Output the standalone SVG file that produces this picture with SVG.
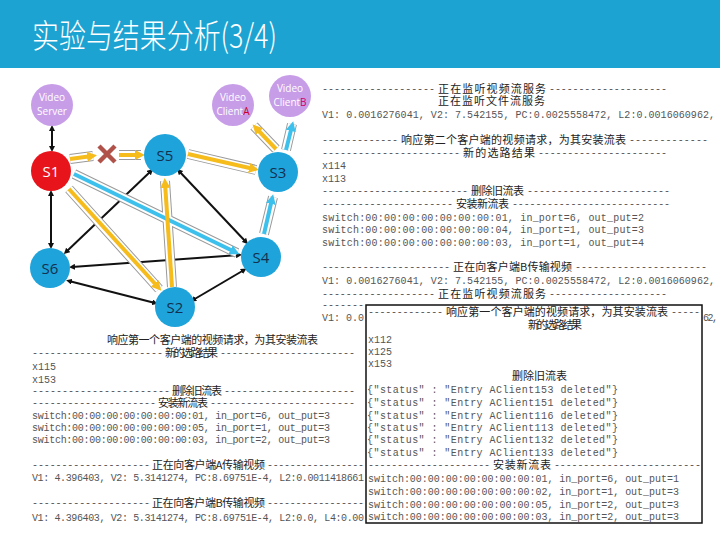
<svg xmlns="http://www.w3.org/2000/svg" width="720" height="540" viewBox="0 0 720 540">
<defs>
<style>
.m{font-family:"Liberation Mono","DejaVu Sans Mono",monospace;font-size:10px;fill:#555}
.c{font-family:"Noto Sans CJK SC",sans-serif;font-size:11px;fill:#222}
.nl{font-family:"Open Sans","Liberation Sans",sans-serif;font-size:15px;text-anchor:middle}
.vl{font-family:"Open Sans","Liberation Sans",sans-serif;font-size:10px;fill:#fff;text-anchor:middle}
.blk{stroke:#111;stroke-width:2;fill:none;marker-start:url(#bh);marker-end:url(#bh)}
.o1{stroke:#9a9a9a;stroke-width:10;fill:none}
.o2{stroke:#fff;stroke-width:8;fill:none}
.y{stroke:#F5BC1C;stroke-width:4;fill:none;marker-end:url(#yh)}
.b{stroke:#3DC1EC;stroke-width:4;fill:none;marker-end:url(#blh)}
.sw{fill:#1EA3DA}
.vn{fill:#C79DE8}
</style>
<marker id="bh" viewBox="0 0 6 6" refX="3" refY="3" markerWidth="3" markerHeight="3" orient="auto-start-reverse"><path d="M0,0 L6,3 L0,6 z" fill="#111"/></marker>
<marker id="yh" viewBox="0 0 6 6" refX="3" refY="3" markerWidth="2.5" markerHeight="2.5" orient="auto"><path d="M0,0 L6,3 L0,6 z" fill="#F5BC1C"/></marker>
<marker id="blh" viewBox="0 0 6 6" refX="3" refY="3" markerWidth="2.5" markerHeight="2.5" orient="auto"><path d="M0,0 L6,3 L0,6 z" fill="#3DC1EC"/></marker>
</defs>
<rect width="720" height="540" fill="#fff"/>
<rect x="0" y="0" width="720" height="68" fill="#1DA3D2"/>
<text x="32" y="48" font-family="'Noto Sans CJK SC',sans-serif" font-weight="300" font-size="33" fill="#fff" textLength="245" lengthAdjust="spacingAndGlyphs">实验与结果分析(3/4)</text>

<g id="connectors">
<line class="blk" x1="52" y1="128" x2="52" y2="149"/>
<line class="blk" x1="51" y1="193" x2="51" y2="246"/>
<line class="blk" x1="151" y1="171" x2="66" y2="252"/>
<line class="blk" x1="179" y1="171" x2="246" y2="242"/>
<line class="blk" x1="239" y1="255" x2="72" y2="267"/>
<line class="blk" x1="69" y1="281" x2="155" y2="303"/>
<line class="blk" x1="193" y1="300" x2="244" y2="270"/>
<g>
<path class="o1" d="M70,159 L93,156 M119,155 L141,155 M188,154 L256,170 M276,149 L254,126 M286,150 L292,124 M74,174 L237,253 M69,189 L159,289 M172,287 L165,181 M264,234 L273,197"/>
<path class="o2" d="M70,159 L93,156 M119,155 L141,155 M188,154 L256,170 M276,149 L254,126 M286,150 L292,124 M74,174 L237,253 M69,189 L159,289 M172,287 L165,181 M264,234 L273,197"/>
</g>
<line class="y" x1="70" y1="159" x2="92" y2="156"/>
<line class="y" x1="119" y1="155" x2="140" y2="155"/>
<line class="y" x1="188" y1="154" x2="254" y2="169"/>
<line class="y" x1="276" y1="149" x2="256" y2="128"/>
<line class="b" x1="286" y1="150" x2="292" y2="126"/>
<line class="b" x1="74" y1="174" x2="235" y2="252"/>
<line class="y" x1="69" y1="189" x2="158" y2="287"/>
<line class="y" x1="172" y1="287" x2="165" y2="183"/>
<line class="b" x1="264" y1="234" x2="272" y2="199"/>
<path d="M99,146 L115,162 M115,146 L99,162" stroke="#B0524A" stroke-width="4.5" fill="none"/>
</g>

<g id="VideoServer"><circle class="vn" cx="52" cy="105" r="21"/><text class="vl" x="52" y="101">Video</text><text class="vl" x="52" y="115">Server</text></g>
<g id="ClientA"><circle class="vn" cx="233" cy="105" r="21"/><text class="vl" x="233" y="101">Video</text><text class="vl" x="233" y="115">Client<tspan fill="#C8002A">A</tspan></text></g>
<g id="ClientB"><circle class="vn" cx="290" cy="96" r="21"/><text class="vl" x="290" y="92">Video</text><text class="vl" x="290" y="106">Client<tspan fill="#D0006A">B</tspan></text></g>
<g id="S1"><circle cx="51" cy="171" r="20" fill="#E8141B"/><text class="nl" x="51" y="177" fill="#fff">S1</text></g>
<g id="S5"><circle class="sw" cx="165" cy="155" r="21"/><text class="nl" x="165" y="161" fill="#14304f">S5</text></g>
<g id="S3"><circle class="sw" cx="278" cy="172" r="20"/><text class="nl" x="278" y="178" fill="#14304f">S3</text></g>
<g id="S4"><circle class="sw" cx="261" cy="257" r="20"/><text class="nl" x="261" y="263" fill="#14304f">S4</text></g>
<g id="S6"><circle class="sw" cx="50" cy="268" r="20"/><text class="nl" x="50" y="274" fill="#14304f">S6</text></g>
<g id="S2"><circle class="sw" cx="175" cy="307" r="20"/><text class="nl" x="175" y="313" fill="#14304f">S2</text></g>

<g id="right-log">
<text class="m" x="322" y="92" textLength="113">-------------------</text><text class="c" x="438" y="93" font-size="11.5" textLength="108">正在监听视频流服务</text><text class="m" x="549" y="92" textLength="118">--------------------</text>
<text class="c" x="438" y="105" font-size="11.5" textLength="107">正在监听文件流服务</text>
<text class="m" x="322" y="118" textLength="393">V1: 0.0016276041, V2: 7.542155, PC:0.0025558472, L2:0.0016060962,</text>
<text class="m" x="322" y="143" textLength="76">-------------</text><text class="c" x="401" y="144" textLength="225">响应第二个客户端的视频请求，为其安装流表</text><text class="m" x="629" y="143" textLength="79">-------------</text>
<text class="m" x="322" y="156" textLength="138">-----------------------</text><text class="c" x="463" y="157" textLength="72">新的选路结果</text><text class="m" x="538" y="156" textLength="129">----------------------</text>
<text class="m" x="322" y="169">x114</text>
<text class="m" x="322" y="182">x113</text>
<text class="m" x="322" y="194" textLength="146">-------------------------</text><text class="c" x="471" y="195" textLength="53">删除旧流表</text><text class="m" x="527" y="194" textLength="143">------------------------</text>
<text class="m" x="322" y="207" textLength="131">----------------------</text><text class="c" x="456" y="208" textLength="53">安装新流表</text><text class="m" x="512" y="207" textLength="158">---------------------------</text>
<text class="m" x="322" y="221" textLength="322">switch:00:00:00:00:00:00:00:01, in_port=6, out_put=2</text>
<text class="m" x="322" y="233" textLength="322">switch:00:00:00:00:00:00:00:04, in_port=1, out_put=3</text>
<text class="m" x="322" y="246" textLength="322">switch:00:00:00:00:00:00:00:03, in_port=1, out_put=4</text>
<text class="m" x="322" y="270" textLength="128">----------------------</text><text class="c" x="453" y="271" textLength="119">正在向客户端B传输视频</text><text class="m" x="575" y="270" textLength="132">----------------------</text>
<text class="m" x="322" y="284" textLength="393">V1: 0.0016276041, V2: 7.542155, PC:0.0025558472, L2:0.0016060962,</text>
<text class="m" x="322" y="297" textLength="113">-------------------</text><text class="c" x="438" y="298" font-size="11.5" textLength="108">正在监听视频流服务</text><text class="m" x="549" y="297" textLength="118">--------------------</text>
<text class="m" x="322" y="308" textLength="42">-------</text>
<text class="m" x="322" y="321">V1: 0.0</text>
<text class="m" x="703" y="321" textLength="15">62,</text>
</g>

<g id="left-log">
<text class="c" x="107" y="344" font-size="10.5" textLength="211">响应第一个客户端的视频请求，为其安装流表</text>
<text class="m" x="32" y="356" textLength="131">----------------------</text><text class="c" x="165" y="357" font-size="9.5" textLength="53">新的选路结果</text><text class="m" x="220" y="356" textLength="135">-----------------------</text>
<text class="m" x="32" y="370">x115</text>
<text class="m" x="32" y="383">x153</text>
<text class="m" x="32" y="394" textLength="138">-----------------------</text><text class="c" x="172" y="395" font-size="10" textLength="50">删除旧流表</text><text class="m" x="224" y="394" textLength="131">----------------------</text>
<text class="m" x="32" y="406" textLength="124">---------------------</text><text class="c" x="158" y="407" font-size="10" textLength="50">安装新流表</text><text class="m" x="210" y="406" textLength="145">------------------------</text>
<text class="m" x="32" y="419" textLength="298">switch:00:00:00:00:00:00:00:01, in_port=6, out_put=3</text>
<text class="m" x="32" y="431" textLength="298">switch:00:00:00:00:00:00:00:05, in_port=1, out_put=3</text>
<text class="m" x="32" y="443" textLength="298">switch:00:00:00:00:00:00:00:03, in_port=2, out_put=3</text>
<text class="m" x="32" y="468" textLength="118">--------------------</text><text class="c" x="152" y="469" font-size="10.3" textLength="113">正在向客户端A传输视频</text><text class="m" x="267" y="468" textLength="97">-----------------</text>
<text class="m" x="32" y="481" textLength="332">V1: 4.396403, V2: 5.3141274, PC:8.69751E-4, L2:0.0011418661</text>
<text class="m" x="32" y="506" textLength="118">--------------------</text><text class="c" x="152" y="507" font-size="10.3" textLength="113">正在向客户端B传输视频</text><text class="m" x="267" y="506" textLength="97">-----------------</text>
<text class="m" x="32" y="521" textLength="332">V1: 4.396403, V2: 5.3141274, PC:8.69751E-4, L2:0.0, L4:0.00</text>
</g>

<g id="inset">
<rect x="366" y="305" width="336" height="218" fill="#fff" stroke="#111" stroke-width="1.5"/>
<text class="m" x="368" y="315" textLength="75">-------------</text><text class="c" x="446" y="316" textLength="222">响应第一个客户端的视频请求，为其安装流表</text><text class="m" x="671" y="315" textLength="29">-----</text>
<text class="c" x="528" y="329" font-size="9.5" textLength="54">新的选路结果</text>
<text class="m" x="368" y="343">x112</text>
<text class="m" x="368" y="355">x125</text>
<text class="m" x="368" y="367">x153</text>
<text class="c" x="512" y="380" textLength="55">删除旧流表</text>
<text class="m" x="367" y="393" textLength="251">{"status" : "Entry AClient153 deleted"}</text>
<text class="m" x="367" y="406" textLength="251">{"status" : "Entry AClient151 deleted"}</text>
<text class="m" x="367" y="419" textLength="251">{"status" : "Entry AClient116 deleted"}</text>
<text class="m" x="367" y="431" textLength="251">{"status" : "Entry AClient113 deleted"}</text>
<text class="m" x="367" y="443" textLength="251">{"status" : "Entry AClient132 deleted"}</text>
<text class="m" x="367" y="456" textLength="251">{"status" : "Entry AClient133 deleted"}</text>
<text class="m" x="368" y="468" textLength="122">---------------------</text><text class="c" x="493" y="469" font-size="11.5" textLength="58">安装新流表</text><text class="m" x="554" y="468" textLength="147">-------------------------</text>
<text class="m" x="368" y="482" textLength="311">switch:00:00:00:00:00:00:00:01, in_port=6, out_put=1</text>
<text class="m" x="368" y="495" textLength="311">switch:00:00:00:00:00:00:00:02, in_port=1, out_put=3</text>
<text class="m" x="368" y="508" textLength="311">switch:00:00:00:00:00:00:00:05, in_port=2, out_put=3</text>
<text class="m" x="368" y="520" textLength="311">switch:00:00:00:00:00:00:00:03, in_port=2, out_put=3</text>
</g>
</svg>
